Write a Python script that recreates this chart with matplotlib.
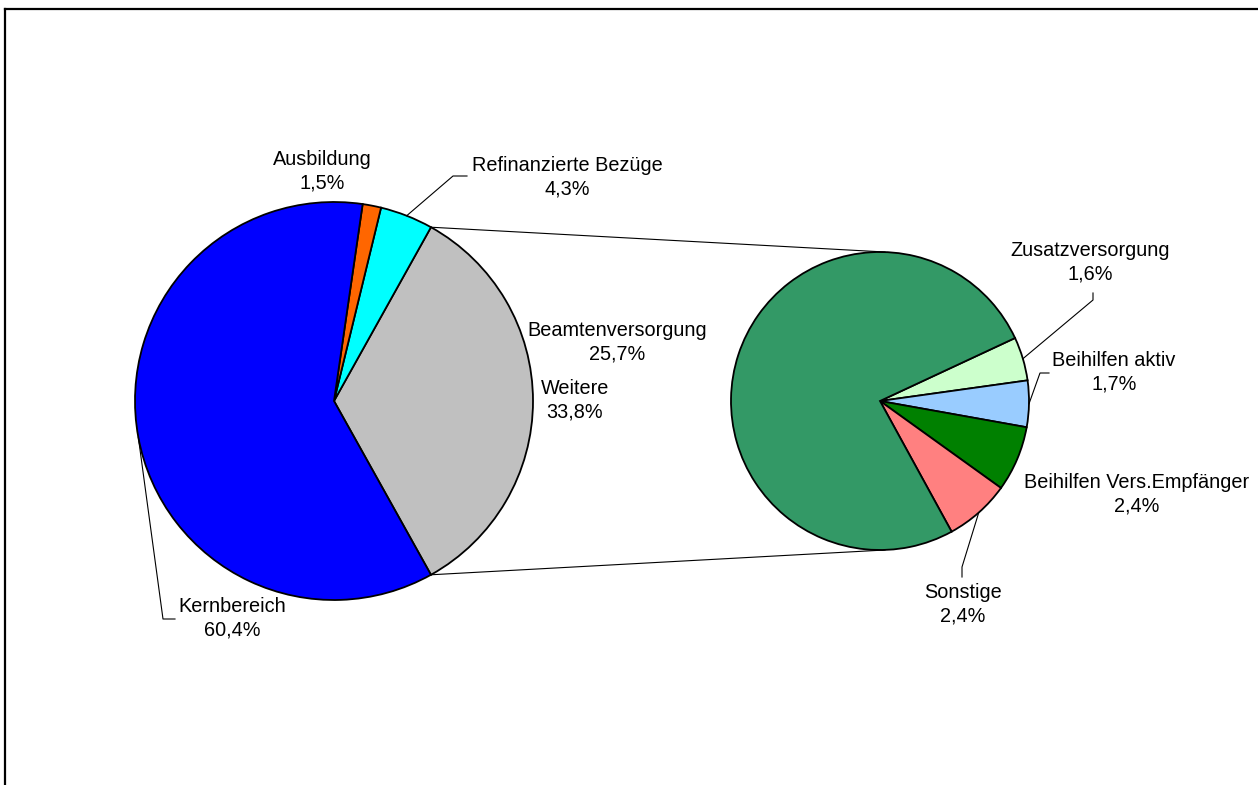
import numpy as np
import matplotlib
matplotlib.use("Agg")
import matplotlib.pyplot as plt
from matplotlib.lines import Line2D

plt.rcParams['font.family'] = ['Liberation Sans', 'DejaVu Sans']

# Daten
left_labels = ["Weitere", "Refinanzierte Bezüge", "Ausbildung", "Kernbereich"]
left_values = [33.8, 4.3, 1.5, 60.4]
left_colors = ["#C0C0C0", "#00FFFF", "#FF6600", "#0000FF"]

right_labels = ["Zusatzversorgung", "Beihilfen aktiv", "Beihilfen Vers.Empfänger",
                "Sonstige", "Beamtenversorgung"]
right_values = [1.6, 1.7, 2.4, 2.4, 25.7]
right_colors = ["#CCFFCC", "#99CCFF", "#008000", "#FF8080", "#339966"]

W, H = 1258, 785
fig = plt.figure(figsize=(W / 100, H / 100), dpi=100)
ax = fig.add_axes([0, 0, 1, 1])

# Positionen in Pixeln (y von oben)
c1, r1 = (334, 401), 199
c2, r2 = (880, 401), 149


def P(x, y):
    return (x, H - y)


wp = dict(edgecolor="black", linewidth=1.3)
start1 = -left_values[0] / sum(left_values) * 360 / 2
ax.pie(left_values, colors=left_colors, startangle=start1, counterclock=True,
       center=P(*c1), radius=r1, wedgeprops=wp, frame=True)
ax.pie(right_values, colors=right_colors, startangle=25, counterclock=False,
       center=P(*c2), radius=r2, wedgeprops=wp, frame=True)

ax.set_xlim(0, W)
ax.set_ylim(0, H)
ax.set_aspect("equal")
ax.axis("off")

# Verbindungslinien
a_top = np.radians(start1 + left_values[0] / sum(left_values) * 360)
a_bot = np.radians(start1)
cx1, cy1 = P(*c1)
cx2, cy2 = P(*c2)
ax.plot([cx1 + r1 * np.cos(a_top), cx2 + 5], [cy1 + r1 * np.sin(a_top), cy2 + r2],
        color="black", lw=0.8)
ax.plot([cx1 + r1 * np.cos(a_bot), cx2 + 5], [cy1 + r1 * np.sin(a_bot), cy2 - r2],
        color="black", lw=0.8)


def mid_angles(values, start, ccw):
    tot = sum(values)
    cum = np.cumsum([0] + list(values))
    sgn = 1 if ccw else -1
    return [start + sgn * (cum[i] + values[i] / 2) / tot * 360 for i in range(len(values))]


mids1 = mid_angles(left_values, start1, True)
mids2 = mid_angles(right_values, 25, False)

# Beschriftungen: Text-Mitte und Knickpunkte der Führungslinie (Pixel)
layout_left = {
    "Weitere": ((575, 400), None),
    "Refinanzierte Bezüge": ((567, 177), [(453, 176), (467, 176)]),
    "Ausbildung": ((322, 171), None),
    "Kernbereich": ((232, 618), [(163, 619), (175, 619)]),
}
layout_right = {
    "Zusatzversorgung": ((1090, 262), [(1093, 300), (1093, 293)]),
    "Beihilfen aktiv": ((1114, 372), [(1040, 373), (1049, 373)]),
    "Beihilfen Vers.Empfänger": ((1137, 494), None),
    "Sonstige": ((963, 604), [(962, 567), (962, 577)]),
    "Beamtenversorgung": ((617, 342), None),
}


def put_labels(labels, values, mids, center, r, layout):
    cx, cy = P(*center)
    for lab, val, m in zip(labels, values, mids):
        (tx, ty), elbow = layout[lab]
        pct = f"{val:.1f}".replace(".", ",") + "%"
        ax.text(*P(tx, ty), f"{lab}\n{pct}", ha="center", va="center",
                fontsize=14.3, linespacing=1.3)
        if elbow:
            a = np.radians(m)
            xs = [cx + r * np.cos(a)] + [P(*e)[0] for e in elbow]
            ys = [cy + r * np.sin(a)] + [P(*e)[1] for e in elbow]
            ax.plot(xs, ys, color="black", lw=0.8)


put_labels(left_labels, left_values, mids1, c1, r1, layout_left)
put_labels(right_labels, right_values, mids2, c2, r2, layout_right)

# Rahmen (links und oben)
fig.add_artist(Line2D([5 / W, 5 / W], [0, 1 - 9 / H], color="black", lw=1.6,
                      transform=fig.transFigure))
fig.add_artist(Line2D([5 / W, 1], [1 - 9 / H, 1 - 9 / H], color="black", lw=1.6,
                      transform=fig.transFigure))

fig.savefig("out.png", dpi=100)
